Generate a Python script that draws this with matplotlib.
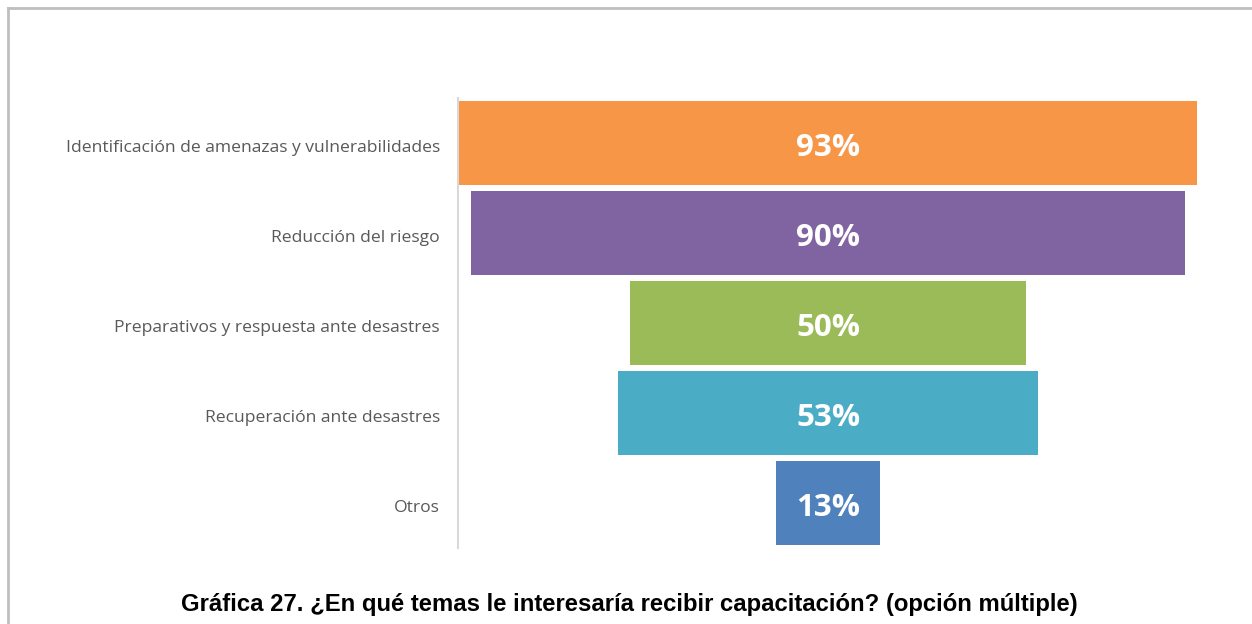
import matplotlib.pyplot as plt
from matplotlib.lines import Line2D
from matplotlib.transforms import ScaledTranslation

categorias = ["Identificación de amenazas y vulnerabilidades",
              "Reducción del riesgo",
              "Preparativos y respuesta ante desastres",
              "Recuperación ante desastres",
              "Otros"]
valores = [93, 90, 50, 53, 13]
colores = ["#F79646", "#8064A2", "#9BBB59", "#4BACC6", "#4F81BD"]
titulo = "Gráfica 27. ¿En qué temas le interesaría recibir capacitación? (opción múltiple)"

fig = plt.figure(figsize=(12.52, 6.24), dpi=100)
ax = fig.add_axes([458 / 1252, 76 / 624, 740 / 1252, 450 / 624])

y = list(range(len(valores)))
ax.barh(y, valores, left=[-v / 2 for v in valores], height=0.933, color=colores)
for yi, v in zip(y, valores):
    ax.text(0, yi + 0.05, f"{v}%", ha="center", va="center", color="white",
            fontsize=22.5, fontweight="bold", family="Open Sans")

ax.set_xlim(-46.6, 46.6)
ax.set_ylim(len(valores) - 0.5, -0.5)
ax.set_yticks(y)
ax.set_yticklabels(categorias, fontsize=12.6, color="#595959", family="Open Sans")
ax.tick_params(axis="y", length=0, pad=13)
bajar = ScaledTranslation(0, -3 / 100, fig.dpi_scale_trans)
for lab in ax.get_yticklabels():
    lab.set_transform(lab.get_transform() + bajar)
ax.set_xticks([])
for s in ["top", "right", "bottom"]:
    ax.spines[s].set_visible(False)
ax.spines["left"].set_color("#D9D9D9")
ax.spines["left"].set_linewidth(1.5)

fig.text(0.503, 19 / 624, titulo, ha="center", va="center", fontsize=17.2,
         fontweight="bold", family="Liberation Sans", color="black")

# marco gris arriba e izquierda
fig.add_artist(Line2D([8 / 1252, 1], [1 - 8 / 624, 1 - 8 / 624], color="#BFBFBF", lw=2))
fig.add_artist(Line2D([8 / 1252, 8 / 1252], [0, 1 - 8 / 624], color="#BFBFBF", lw=2))

fig.savefig("out.png", dpi=100, facecolor="white")
